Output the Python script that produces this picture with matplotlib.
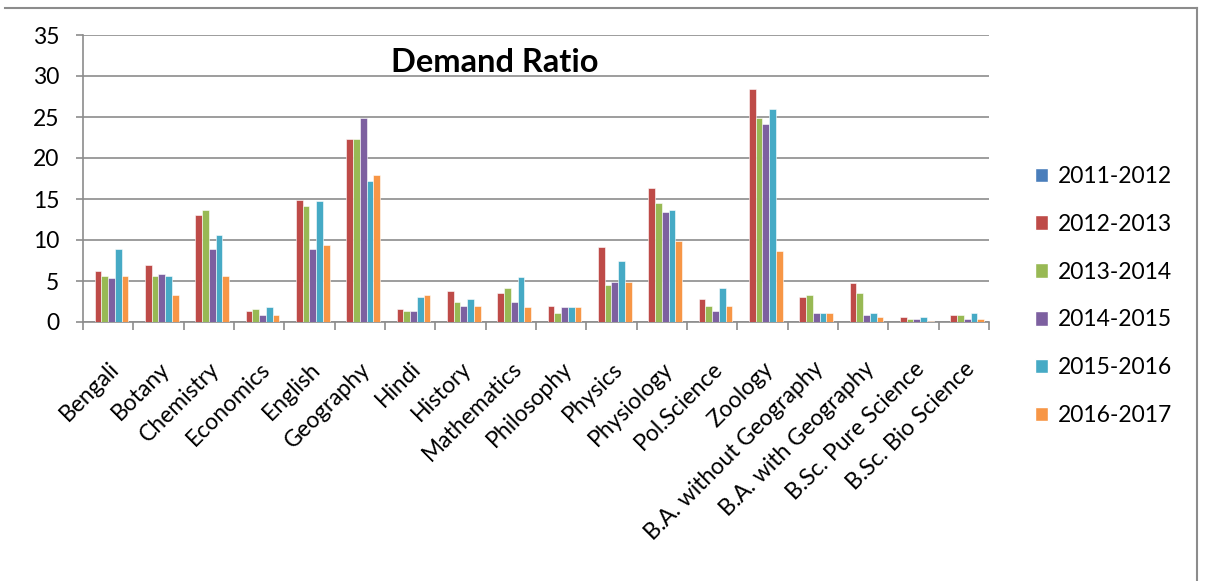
import numpy as np
import matplotlib.pyplot as plt
from matplotlib.patches import Patch
from matplotlib.lines import Line2D

plt.rcParams['font.family'] = ['Lato', 'DejaVu Sans']

subjects = ["Bengali", "Botany", "Chemistry", "Economics", "English", "Geography",
            "Hindi", "History", "Mathematics", "Philosophy", "Physics", "Physiology",
            "Pol.Science", "Zoology", "B.A. without Geography", "B.A. with Geography",
            "B.Sc. Pure Science", "B.Sc. Bio Science"]

years = ["2011-2012", "2012-2013", "2013-2014", "2014-2015", "2015-2016", "2016-2017"]

y2011 = [0] * 18
y2012 = [6.2, 6.9, 13.0, 1.3, 14.9, 22.3, 1.55, 3.75, 3.5, 2.0, 9.1, 16.4, 2.75, 28.4, 3.0, 4.7, 0.57, 0.8]
y2013 = [5.65, 5.65, 13.7, 1.55, 14.2, 22.3, 1.3, 2.5, 4.2, 1.05, 4.5, 14.5, 2.0, 24.9, 3.25, 3.5, 0.33, 0.8]
y2014 = [5.4, 5.9, 8.85, 0.8, 8.85, 24.9, 1.3, 2.0, 2.5, 1.8, 4.9, 13.45, 1.3, 24.2, 1.05, 0.8, 0.33, 0.33]
y2015 = [8.85, 5.65, 10.6, 1.8, 14.75, 17.15, 3.0, 2.75, 5.45, 1.8, 7.4, 13.7, 4.2, 26.0, 1.05, 1.05, 0.57, 1.05]
y2016 = [5.65, 3.25, 5.65, 0.8, 9.35, 17.9, 3.25, 2.0, 1.8, 1.8, 4.9, 9.9, 2.0, 8.6, 1.05, 0.57, 0.1, 0.33]

series = [y2011, y2012, y2013, y2014, y2015, y2016]
colors = ["#4A7EBB", "#BE4B48", "#98B954", "#7D60A0", "#46AAC5", "#F79646"]

fig = plt.figure(figsize=(12.09, 5.81), dpi=100)
ax = fig.add_axes([83 / 1209, 1 - 322 / 581, (989 - 83) / 1209, (322 - 35) / 581])

x = np.arange(len(subjects))
w = 1 / 7.5
for i, vals in enumerate(series):
    ax.bar(x + (i - 2.5) * w, vals, width=w, color=colors[i],
           edgecolor="white", linewidth=0.4, zorder=3)

ax.set_xlim(-0.5, len(subjects) - 0.5)
ax.set_ylim(0, 35)
ax.set_yticks(range(0, 36, 5))
ax.yaxis.grid(True, color="#8c8c8c", linewidth=1.2, zorder=0)
ax.set_axisbelow(True)

for s in ["top", "right"]:
    ax.spines[s].set_visible(False)
for s in ["left", "bottom"]:
    ax.spines[s].set_color("#8c8c8c")
    ax.spines[s].set_linewidth(1.2)

ax.tick_params(axis="y", labelsize=16.5, length=5, color="#8c8c8c", width=1.2, pad=12)
ax.set_xticks(x)
ax.set_xticklabels(subjects, rotation=45, ha="right", rotation_mode="anchor", fontsize=16.5)
ax.tick_params(axis="x", which="major", length=0, pad=26)
ax.set_xticks(np.arange(-0.5, len(subjects), 1), minor=True)
ax.tick_params(axis="x", which="minor", length=6, color="#8c8c8c", width=1.2)

fig.text(495 / 1209, 1 - 62 / 581, "Demand Ratio", fontsize=23.5, fontweight="bold",
         ha="center", va="center")

handles = [Patch(facecolor=c, edgecolor="white") for c in colors]
fig.legend(handles, years, loc="center left", bbox_to_anchor=(1014 / 1209, 1 - 296 / 581),
           frameon=False, fontsize=16.5, handlelength=0.6, handleheight=0.6,
           handletextpad=0.4, labelspacing=1.17)

# chart border
fig.add_artist(Line2D([5 / 1209, 1197 / 1209], [1 - 8 / 581, 1 - 8 / 581],
                      color="#8c8c8c", linewidth=1.5))
fig.add_artist(Line2D([1197 / 1209, 1197 / 1209], [1 - 8 / 581, 0],
                      color="#8c8c8c", linewidth=1.5))

fig.savefig("out.png", dpi=100)
